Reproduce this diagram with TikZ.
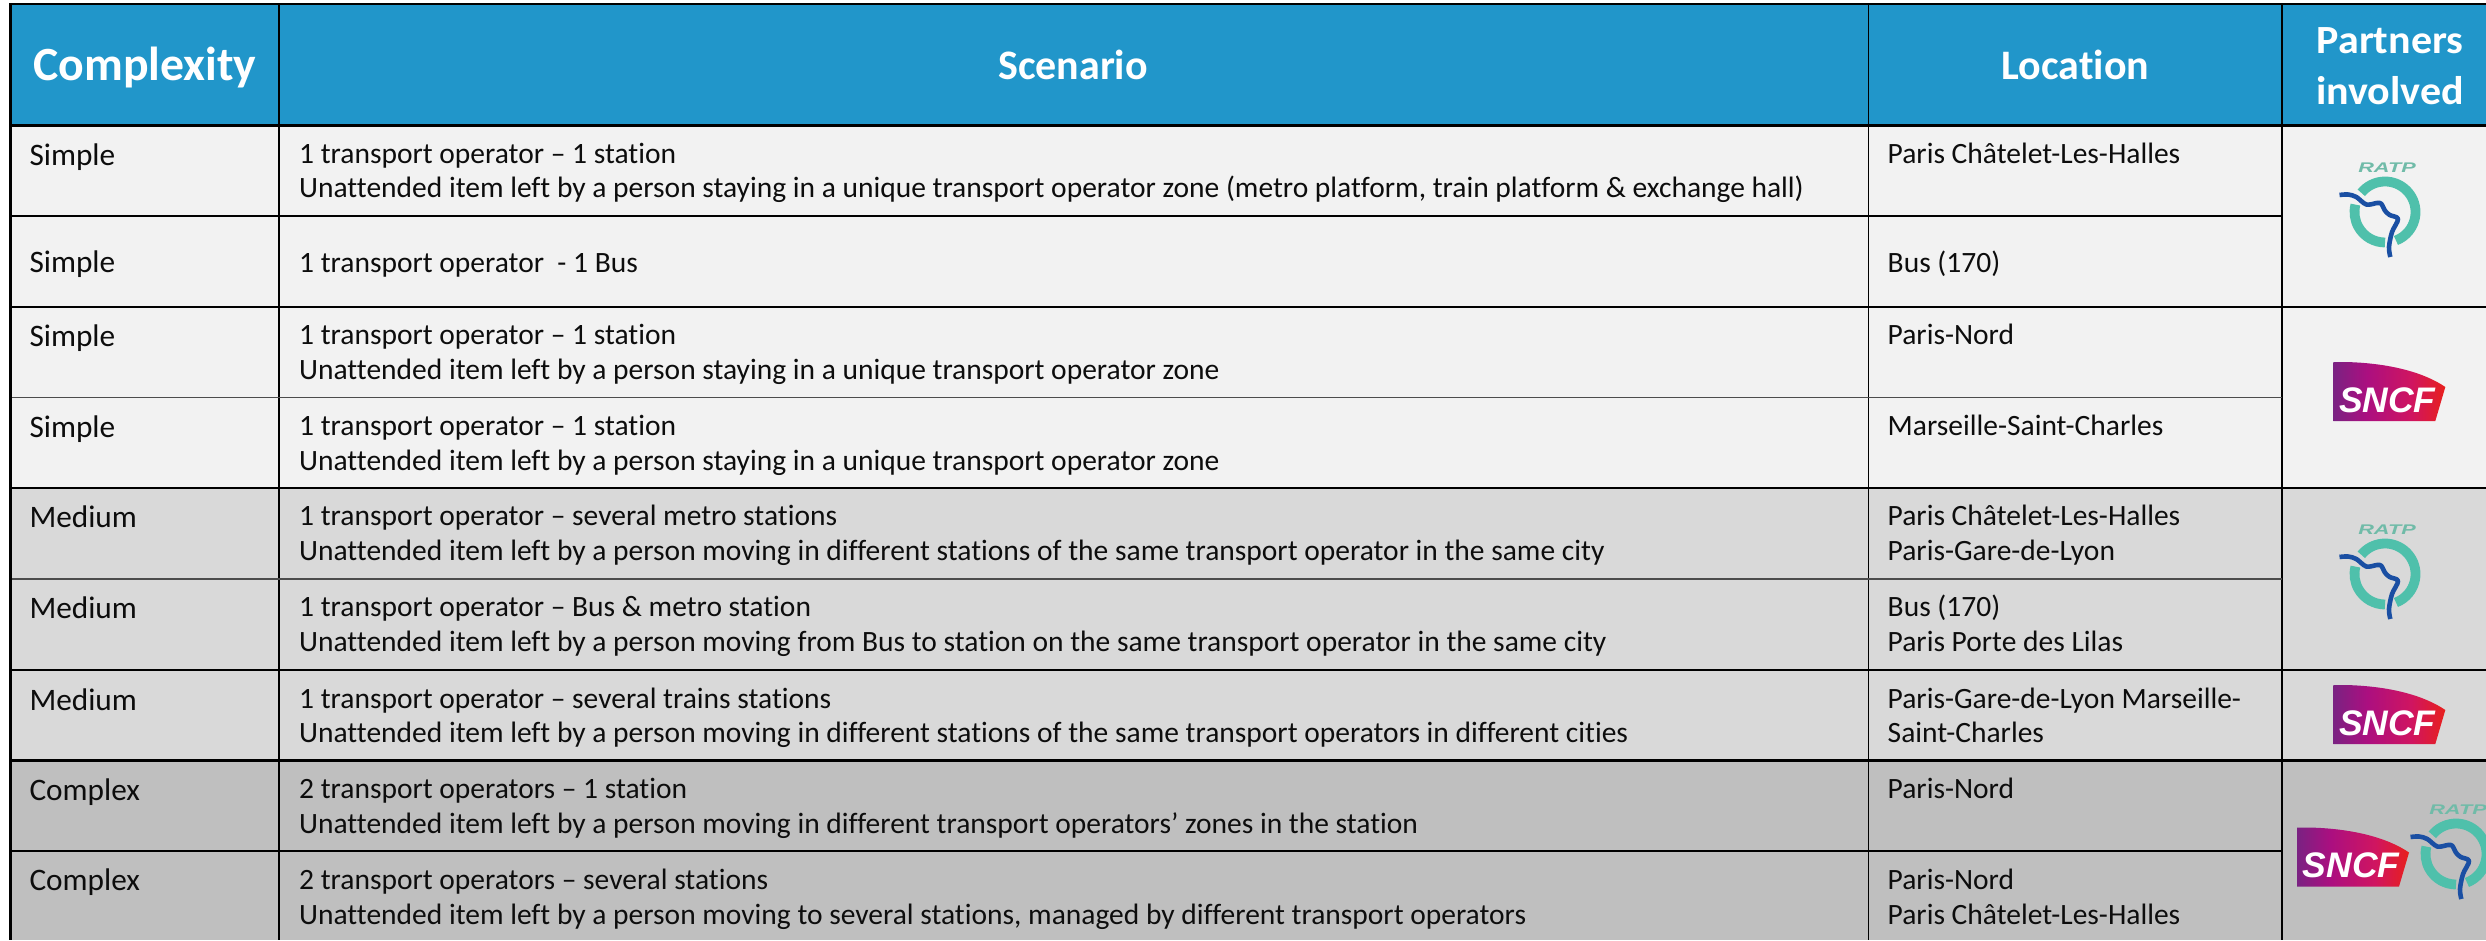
\documentclass[tikz,border=0pt]{standalone}
\usepackage{fontspec}
\usepackage{graphicx}
\setmainfont[Ligatures=NoCommon]{Carlito}
\newfontfamily\logofont{Liberation Sans}
\definecolor{headblue}{HTML}{2196CA}
\definecolor{rowlight}{HTML}{F2F2F2}
\definecolor{rowmed}{HTML}{D9D9D9}
\definecolor{rowdark}{HTML}{BFBFBF}
\definecolor{ratpteal}{HTML}{4FC0AB}
\definecolor{ratptext}{HTML}{70BBA8}
\definecolor{ratpblue}{HTML}{1A4FA3}
\definecolor{sncfa}{HTML}{7A2282}
\definecolor{sncfb}{HTML}{AB0F80}
\definecolor{sncfc}{HTML}{D01560}
\definecolor{sncfd}{HTML}{E8201C}
\pgfdeclarehorizontalshading{sncfshade}{100bp}{color(0bp)=(sncfa);color(25bp)=(sncfa);color(40bp)=(sncfb);color(60bp)=(sncfc);color(75bp)=(sncfd);color(100bp)=(sncfd)}
\tikzset{
  x=1pt,y=1pt,
  thick rule/.style={line width=2.8pt,black},
  thin rule/.style={line width=1.1pt,black},
  soft rule/.style={line width=1.4pt,black!70},
  cell/.style={anchor=base west,inner sep=0pt,text=black!95,
    font=\fontsize{29.5}{34.7}\selectfont},
  levelcell/.style={cell,font=\fontsize{31.3}{34.7}\selectfont},
  headcell/.style={anchor=base,inner sep=0pt,text=white,font=\fontsize{42}{50}\bfseries\selectfont},
  headbig/.style={headcell,font=\fontsize{47.7}{50}\bfseries\selectfont},
  headtwo/.style={headcell,font=\fontsize{40}{50.7}\bfseries\selectfont},
}
\newcommand{\twolines}[2]{\vtop{\hbox{#1}\hbox{#2}}}
\newcommand{\ratplogo}[3]{% name, x, y (ring centre)
  \begin{scope}[shift={(#2,#3)}]
    \draw[ratpteal,line width=9.8pt] (141:30.5pt) arc[start angle=141,end angle=-69,radius=30.5pt];
    \draw[ratpteal,line width=9.8pt] (-90:30.5pt) arc[start angle=-90,end angle=-194,radius=30.5pt];
    \draw[ratpblue,line width=4.6pt,line join=round]
      plot[smooth,tension=0.55] coordinates {(-45.5,17) (-37,17.5) (-28.7,15) (-18.7,7.5) (-8,9) (-3.7,8.2) (0,1.3) (4.7,-3) (13,-7) (7,-20) (4,-35) (5.3,-45)};
    \node[inner sep=0pt,text=ratptext] (#1) at (2,44) {\scalebox{1.55}[1]{\logofont\fontsize{14}{14}\bfseries\itshape\selectfont RATP}};
  \end{scope}}
\newcommand{\sncflogo}[3]{% name, x, y (top left corner)
  \begin{scope}[shift={(#2,#3)}]
    \shade[shading=sncfshade] (0,0) -- (12,0) .. controls (55,-1) and (90,-10) .. (112,-25) -- (102,-59) -- (0,-59) -- cycle;
    \node[inner sep=0pt,text=white] (#1) at (54,-38) {\logofont\fontsize{35.5}{35}\bfseries\itshape\selectfont SNCF};
  \end{scope}}
\begin{document}
\begin{tikzpicture}
\useasboundingbox (0,0) rectangle (2486,-940);
\clip (0,0) rectangle (2486,-940);
\fill[white] (0,0) rectangle (2486,-940);
% row bands
\fill[headblue] (11,-4) rectangle (2486,-126);
\fill[rowlight] (11,-126) rectangle (2486,-488);
\fill[rowmed] (11,-488) rectangle (2486,-761);
\fill[rowdark] (11,-761) rectangle (2486,-940);
% vertical rules
\draw[thin rule] (279,-4) -- (279,-940);
\draw[thin rule] (1868.4,-4) -- (1868.4,-940);
\draw[thin rule] (2282,-4) -- (2282,-940);
% thin row rules
\foreach \yy in {216,851} \draw[thin rule] (11,-\yy) -- (2282,-\yy);
\foreach \yy in {397.5,579} \draw[soft rule] (11,-\yy) -- (2282,-\yy);
% thick row rules
\foreach \yy in {4,125.7,307,488,670,760.5} \draw[thick rule] (11,-\yy) -- (2486,-\yy);
\draw[line width=2.2pt,black] (10.5,-3) -- (10.5,-940);
% header
\node[headbig] (hc) at (145,-80) {Complexity};
\node[headcell] (hs) at (1073,-79) {Scenario};
\node[headcell] (hl) at (2075.5,-79) {Location};
\node[headtwo] (hp) at (2390,-53.3) {\scalebox{1.05}[1]{\vtop{\halign{\hfil#\hfil\cr Partners\cr involved\cr}}}};
% rows
\node[levelcell] (c1) at (29.3,-165) {Simple};
\node[cell] (s1) at (299,-163) {\twolines{1 transport operator – 1 station}{Unattended item left by a person staying in a unique transport operator zone (metro platform, train platform \& exchange hall)}};
\node[cell] (l1) at (1887.5,-163) {Paris Châtelet-Les-Halles};
\node[levelcell] (c2) at (29.3,-272.7) {Simple};
\node[cell] (s2) at (299,-272) {1 transport operator\ \ - 1 Bus};
\node[cell] (l2) at (1887.5,-272) {Bus (170)};
\node[levelcell] (c3) at (29.3,-346.5) {Simple};
\node[cell] (s3) at (299,-344.5) {\twolines{1 transport operator – 1 station}{Unattended item left by a person staying in a unique transport operator zone}};
\node[cell] (l3) at (1887.5,-344) {Paris-Nord};
\node[levelcell] (c4) at (29.3,-437.5) {Simple};
\node[cell] (s4) at (299,-435.5) {\twolines{1 transport operator – 1 station}{Unattended item left by a person staying in a unique transport operator zone}};
\node[cell] (l4) at (1887.5,-435.5) {Marseille-Saint-Charles};
\node[levelcell] (c5) at (29.3,-527.5) {Medium};
\node[cell] (s5) at (299,-525.5) {\twolines{1 transport operator – several metro stations}{Unattended item left by a person moving in different stations of the same transport operator in the same city}};
\node[cell] (l5) at (1887.5,-525.5) {\twolines{Paris Châtelet-Les-Halles}{Paris-Gare-de-Lyon}};
\node[levelcell] (c6) at (29.3,-618.5) {Medium};
\node[cell] (s6) at (299,-616.5) {\twolines{1 transport operator – Bus \& metro station}{Unattended item left by a person moving from Bus to station on the same transport operator in the same city}};
\node[cell] (l6) at (1887.5,-616.5) {\twolines{Bus (170)}{Paris Porte des Lilas}};
\node[levelcell] (c7) at (29.3,-710) {Medium};
\node[cell] (s7) at (299,-708) {\twolines{1 transport operator – several trains stations}{Unattended item left by a person moving in different stations of the same transport operators in different cities}};
\node[cell] (l7) at (1887.5,-708) {\twolines{Paris-Gare-de-Lyon Marseille-}{Saint-Charles}};
\node[levelcell] (c8) at (29.3,-800) {Complex};
\node[cell] (s8) at (299,-798.5) {\twolines{2 transport operators – 1 station}{Unattended item left by a person moving in different transport operators’ zones in the station}};
\node[cell] (l8) at (1887.5,-798.5) {Paris-Nord};
\node[levelcell] (c9) at (29.3,-890.7) {Complex};
\node[cell] (s9) at (299,-889.5) {\twolines{2 transport operators – several stations}{Unattended item left by a person moving to several stations, managed by different transport operators}};
\node[cell] (l9) at (1887.5,-889.5) {\twolines{Paris-Nord}{Paris Châtelet-Les-Halles}};
% logos
\ratplogo{r1}{2385}{-212}
\sncflogo{n1}{2333.3}{-362}
\ratplogo{r2}{2385}{-574}
\sncflogo{n2}{2333.3}{-685}
\sncflogo{n3}{2297}{-827.5}
\ratplogo{r3}{2456}{-854}
\end{tikzpicture}
\end{document}
